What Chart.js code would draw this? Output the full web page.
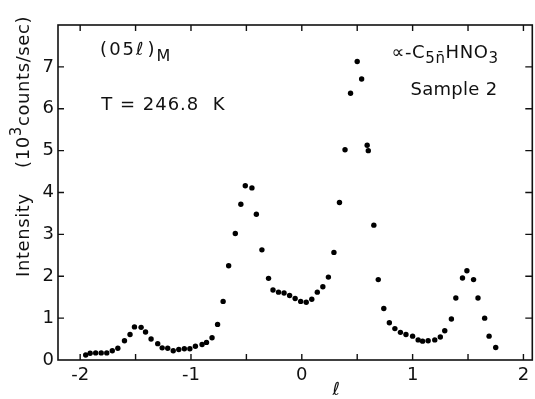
<!DOCTYPE html>
<html>
<head>
<meta charset="utf-8">
<script src="https://cdn.jsdelivr.net/npm/chart.js@4"></script>
<style>
  html, body { margin: 0; padding: 0; background: #fff; }
  #wrap { width: 535px; height: 399px; }
</style>
</head>
<body>
<div id="wrap"><canvas id="chart" width="535" height="399"></canvas></div>
<script>
// data: l (reciprocal lattice units) and intensity (10^3 counts/sec)
const ellValues = [
  -1.95, -1.91, -1.86, -1.81, -1.76, -1.71, -1.66, -1.60, -1.55, -1.51,
  -1.45, -1.41, -1.36, -1.30, -1.26, -1.21, -1.16, -1.11, -1.06, -1.01,
  -0.96, -0.90, -0.86, -0.81, -0.76, -0.71, -0.66, -0.60, -0.55, -0.51,
  -0.45, -0.41, -0.36, -0.30, -0.26, -0.21, -0.16, -0.11, -0.06, -0.01,
  0.04, 0.09, 0.14, 0.19, 0.24, 0.29, 0.34, 0.39, 0.44, 0.50,
  0.54, 0.59, 0.60, 0.65, 0.69, 0.74, 0.79, 0.84, 0.89, 0.94,
  1.00, 1.05, 1.09, 1.14, 1.20, 1.25, 1.29, 1.35, 1.39, 1.45,
  1.49, 1.55, 1.59, 1.65, 1.69, 1.75
];
const intensity = [
  0.12, 0.16, 0.17, 0.17, 0.17, 0.22, 0.28, 0.46, 0.61, 0.79,
  0.78, 0.67, 0.50, 0.39, 0.29, 0.28, 0.22, 0.25, 0.27, 0.27,
  0.33, 0.37, 0.42, 0.53, 0.85, 1.40, 2.25, 3.02, 3.72, 4.16,
  4.11, 3.48, 2.63, 1.95, 1.67, 1.62, 1.60, 1.54, 1.47, 1.40,
  1.38, 1.45, 1.62, 1.75, 1.98, 2.57, 3.76, 5.02, 6.37, 7.13,
  6.71, 5.13, 5.00, 3.22, 1.92, 1.23, 0.89, 0.75, 0.66, 0.61,
  0.57, 0.48, 0.45, 0.46, 0.48, 0.55, 0.70, 0.98, 1.48, 1.96,
  2.13, 1.92, 1.48, 1.00, 0.57, 0.30
];
const xTicks = [-2, -1.5, -1, -0.5, 0, 0.5, 1, 1.5, 2];
const yTicks = [0, 1, 2, 3, 4, 5, 6, 7];

const FONT = "'DejaVu Sans', sans-serif";

const points = ellValues.map((x, i) => ({ x: x, y: intensity[i] }));

// draws text pieces in sequence, some raised or lowered (super/subscripts)
function drawPieces(ctx, pieces, x, y) {
  let cx = x;
  pieces.forEach((p) => {
    ctx.font = p.size + "px " + FONT;
    ctx.fillText(p.t, cx, y + (p.dy || 0));
    cx += ctx.measureText(p.t).width + (p.gap || 0);
  });
}

const framePlugin = {
  id: "frame",
  afterDatasetsDraw(chart) {
    const { ctx, chartArea: a, scales } = chart;
    const xs = scales.x;
    const ys = scales.y;
    ctx.save();
    ctx.strokeStyle = "#111";
    ctx.fillStyle = "#111";

    // box
    ctx.lineWidth = 1.6;
    ctx.strokeRect(a.left, a.top, a.right - a.left, a.bottom - a.top);

    // inward tick marks
    ctx.lineWidth = 1.4;
    ctx.beginPath();
    xTicks.forEach((v) => {
      const px = xs.getPixelForValue(v);
      ctx.moveTo(px, a.bottom); ctx.lineTo(px, a.bottom - 6);
      ctx.moveTo(px, a.top); ctx.lineTo(px, a.top + 6);
    });
    yTicks.slice(1).forEach((v) => {
      const py = ys.getPixelForValue(v);
      ctx.moveTo(a.left, py); ctx.lineTo(a.left + 6, py);
      ctx.moveTo(a.right, py); ctx.lineTo(a.right - 7, py);
    });
    ctx.stroke();

    // annotations
    ctx.textBaseline = "alphabetic";
    ctx.textAlign = "left";
    ctx.letterSpacing = "2px";
    drawPieces(ctx, [
      { t: "(05", size: 18 },
      { t: "ℓ", size: 18, gap: 2 },
      { t: ")", size: 18 },
      { t: "M", size: 16, dy: 6 }
    ], xs.getPixelForValue(-1.82), ys.getPixelForValue(7.28));
    ctx.letterSpacing = "1px";
    drawPieces(ctx, [{ t: "T = 246.8  K", size: 18 }],
      xs.getPixelForValue(-1.81), ys.getPixelForValue(5.96));
    ctx.letterSpacing = "0.6px";
    drawPieces(ctx, [
      { t: "∝-C", size: 18 },
      { t: "5n̄", size: 15, dy: 5 },
      { t: "HNO", size: 18 },
      { t: "3", size: 15, dy: 5 }
    ], xs.getPixelForValue(0.81), ys.getPixelForValue(7.22));
    ctx.letterSpacing = "0.3px";
    drawPieces(ctx, [{ t: "Sample 2", size: 18 }],
      xs.getPixelForValue(0.98), ys.getPixelForValue(6.32));

    // x title (script l)
    ctx.letterSpacing = "0px";
    ctx.font = "italic 18px " + FONT;
    ctx.textAlign = "center";
    ctx.fillText("ℓ", xs.getPixelForValue(0.31), 395);

    // y title, rotated
    ctx.translate(29, 277);
    ctx.rotate(-Math.PI / 2);
    ctx.textAlign = "left";
    ctx.letterSpacing = "0.6px";
    drawPieces(ctx, [
      { t: "Intensity    (10", size: 18 },
      { t: "3", size: 15, dy: -8 },
      { t: "counts/sec)", size: 18 }
    ], 0, 0);
    ctx.restore();
  }
};

new Chart(document.getElementById("chart"), {
  type: "scatter",
  data: {
    datasets: [{
      data: points,
      backgroundColor: "#000",
      borderWidth: 0,
      pointRadius: 2.7,
      pointHoverRadius: 2.7
    }]
  },
  options: {
    responsive: false,
    animation: false,
    events: [],
    layout: { padding: { top: 25, right: 2, left: 0, bottom: 0 } },
    plugins: { legend: { display: false }, tooltip: { enabled: false } },
    scales: {
      x: {
        type: "linear",
        min: -2.2,
        max: 2.08,
        grid: { display: false, drawTicks: false },
        border: { display: false },
        ticks: {
          autoSkip: false,
          maxRotation: 0,
          padding: 5,
          color: "#111",
          font: { family: FONT, size: 18 },
          callback: (v) => (Number.isInteger(v) ? String(v) : "")
        },
        afterBuildTicks: (s) => { s.ticks = xTicks.map((v) => ({ value: v })); },
        afterFit: (s) => { s.height = 39; }
      },
      y: {
        type: "linear",
        min: 0,
        max: 8,
        grid: { display: false, drawTicks: false },
        border: { display: false },
        ticks: {
          padding: 4,
          color: "#111",
          font: { family: FONT, size: 18 },
          callback: (v) => String(v)
        },
        afterBuildTicks: (s) => { s.ticks = yTicks.map((v) => ({ value: v })); },
        afterFit: (s) => { s.width = 58; }
      }
    }
  },
  plugins: [framePlugin]
});
</script>
</body>
</html>
